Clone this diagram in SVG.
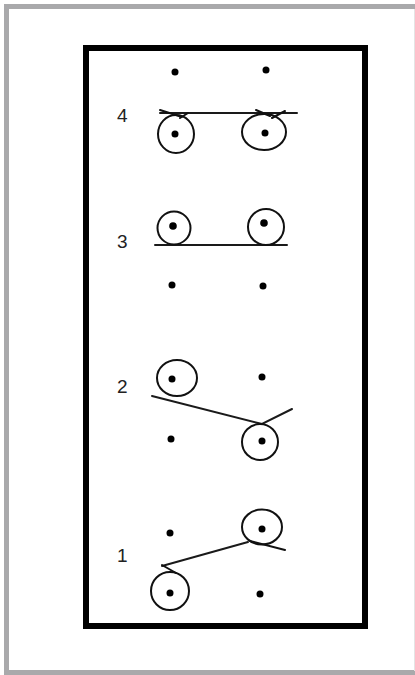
<svg xmlns="http://www.w3.org/2000/svg" width="415" height="675" viewBox="0 0 415 675">
<style>
.frame{fill:none;stroke:#a9a9ab;stroke-width:5}
.box{fill:none;stroke:#000;stroke-width:6}
.dot{fill:#000}
.loop{fill:none;stroke:#111;stroke-width:2;stroke-linecap:round;stroke-linejoin:round}
.rope{fill:none;stroke:#1a1a1a;stroke-width:2;stroke-linecap:round}
.lbl{font-family:"Liberation Sans",Arial,sans-serif;font-size:19px;fill:#222}
</style>
<rect width="415" height="675" fill="#fff"/>
<rect class="frame" x="6.5" y="6.5" width="420" height="666"/>
<line x1="414.5" y1="9" x2="414.5" y2="671" stroke="#e4e4e4" stroke-width="1"/>
<rect class="box" x="86" y="48" width="279" height="578"/>

<g id="labels">
<text class="lbl" x="117" y="122">4</text>
<text class="lbl" x="117" y="248">3</text>
<text class="lbl" x="117" y="393">2</text>
<text class="lbl" x="117" y="562">1</text>
</g>

<g id="connectors">
<line class="rope" x1="160" y1="113" x2="297" y2="113"/>
<line class="rope" x1="155" y1="245" x2="287" y2="245"/>
<path class="rope" d="M152 396 L262 424 L292 409"/>
<path class="rope" d="M162 566 L248 542"/>
</g>

<g id="row4">
<g id="r4-top-left"><circle class="dot" cx="175" cy="72" r="3.5"/></g>
<g id="r4-top-right"><circle class="dot" cx="266" cy="70" r="3.5"/></g>
<g id="r4-left"><circle class="dot" cx="175" cy="134" r="3.5"/>
<ellipse class="loop" cx="176" cy="134" rx="18" ry="19"/>
<path class="loop" d="M160 110 L182 117 M188 113 L180 118"/></g>
<g id="r4-right"><circle class="dot" cx="265" cy="133" r="3.5"/>
<ellipse class="loop" cx="264" cy="132" rx="22" ry="18"/>
<path class="loop" d="M256 110 L270 116 M285 111 L272 118"/></g>
</g>

<g id="row3">
<g id="r3-left"><circle class="dot" cx="173" cy="226" r="3.8"/>
<circle class="loop" cx="174" cy="228" r="16.5"/></g>
<g id="r3-right"><circle class="dot" cx="264" cy="223" r="3.8"/>
<circle class="loop" cx="266" cy="227" r="18"/></g>
<g id="r3-bottom-left"><circle class="dot" cx="172" cy="285" r="3.5"/></g>
<g id="r3-bottom-right"><circle class="dot" cx="263" cy="286" r="3.5"/></g>
</g>

<g id="row2">
<g id="r2-left"><circle class="dot" cx="172" cy="379" r="3.5"/>
<ellipse class="loop" cx="177" cy="378" rx="20" ry="18"/></g>
<g id="r2-top-right"><circle class="dot" cx="262" cy="377" r="3.5"/></g>
<g id="r2-bottom-left"><circle class="dot" cx="171" cy="439" r="3.5"/></g>
<g id="r2-right"><circle class="dot" cx="262" cy="441" r="3.5"/>
<circle class="loop" cx="260" cy="442" r="18"/></g>
</g>

<g id="row1">
<g id="r1-top-left"><circle class="dot" cx="170" cy="533" r="3.5"/></g>
<g id="r1-right"><circle class="dot" cx="262" cy="529" r="3.5"/>
<ellipse class="loop" cx="262" cy="527" rx="20" ry="17.5"/>
<path class="loop" d="M250 541 L285 550"/></g>
<g id="r1-left"><circle class="dot" cx="170" cy="593" r="3.5"/>
<ellipse class="loop" cx="170" cy="591" rx="19" ry="19"/>
<path class="loop" d="M162 565 L176 573"/></g>
<g id="r1-bottom-right"><circle class="dot" cx="260" cy="594" r="3.5"/></g>
</g>
</svg>
